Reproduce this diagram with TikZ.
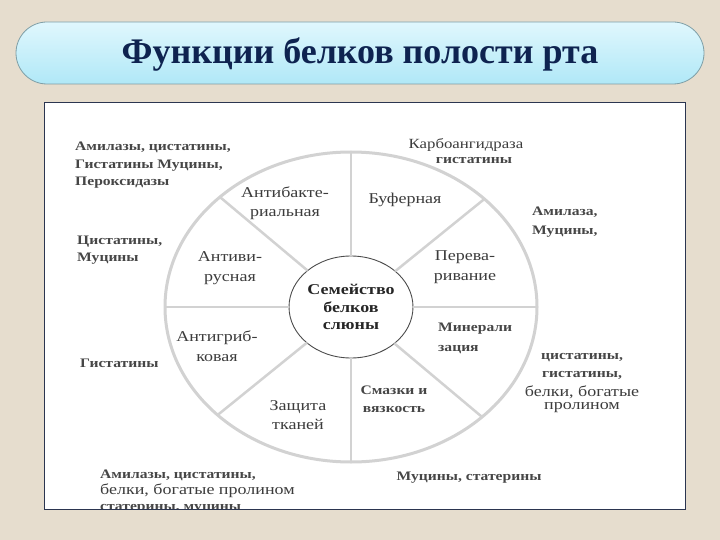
\documentclass[tikz,border=0pt]{standalone}
\usepackage{fontspec}
\setmainfont{Liberation Serif}[FakeStretch=1.2]
\newfontfamily\titlefont{Liberation Serif}
\usetikzlibrary{shapes.geometric}
\definecolor{bg}{HTML}{E6DDCE}
\definecolor{pilltop}{HTML}{E0F7FD}
\definecolor{pillbot}{HTML}{B0E8F7}
\definecolor{pillrim}{HTML}{7E9EA6}
\definecolor{navy}{HTML}{0E2350}
\definecolor{spokegrey}{HTML}{D2D2D2}
\definecolor{ink}{HTML}{3C3C3C}
\definecolor{heavyink}{HTML}{464646}
\definecolor{panelrim}{HTML}{2B3550}
\begin{document}
\begin{tikzpicture}[x=1pt,y=-1pt,
  lab/.style={font=\fontsize{15}{19.5}\selectfont, text=ink, align=center, inner sep=0pt},
  labsmall/.style={font=\fontsize{14}{17}\selectfont, text=ink, align=center, inner sep=0pt},
  heavy/.style={font=\bfseries\fontsize{13}{17.5}\selectfont, text=heavyink, inner sep=0pt},
  centre/.style={font=\bfseries\fontsize{15}{17.5}\selectfont, text=black!85, align=center, inner sep=0pt},
  wheel/.style={draw=spokegrey, line width=3pt},
  spoke/.style={draw=spokegrey, line width=2.5pt}]
\useasboundingbox (0,0) rectangle (720,540);
\fill[bg] (0,0) rectangle (720,540);
% title pill
\shade[top color=pilltop, bottom color=pillbot, draw=pillrim, line width=0.8pt, rounded corners=31pt] (16,22) rectangle (704,84);
\node[font=\titlefont\bfseries\fontsize{36}{40}\selectfont, text=navy, inner sep=0pt] (title) at (360,55) {Функции белков полости рта};
% panel
\draw[fill=white, draw=panelrim, line width=1pt] (44,103) rectangle (685,509);
% wheel
\node[ellipse, wheel, minimum width=372pt, minimum height=310pt, inner sep=0pt, outer sep=0pt] (outer) at (351,307) {};
\node[ellipse, draw=black!70, line width=0.9pt, minimum width=124pt, minimum height=102pt, inner sep=0pt, outer sep=0pt] (inner) at (351,307) {};
\foreach \a in {0,39.8,90,140.2,180,219.8,270,320.2}
  \draw[spoke] (inner.\a) -- (outer.\a);
\node[centre] (fam) at (351,307) {Семейство\\белков\\слюны};
% sectors
\node[lab] (antibac) at (285,203) {Антибакте-\\риальная};
\node[lab] (buf) at (405,200) {Буферная};
\node[lab] (digest) at (465,267) {Перева-\\ривание};
\node[lab] (antivir) at (230,268) {Антиви-\\русная};
\node[lab] (antifung) at (217,346) {Антигриб-\\ковая};
\node[heavy, align=left, anchor=west, font=\bfseries\fontsize{13}{20}\selectfont] (mineral) at (438,338) {Минерали\\зация};
\node[lab] (protect) at (298,415) {Защита\\тканей};
\node[heavy, align=center, font=\bfseries\fontsize{13}{18}\selectfont] (lubric) at (394,399) {Смазки и\\вязкость};
% outer labels
\node[heavy, align=left, anchor=west] (tl) at (75,165.5) {Амилазы, цистатины,\\Гистатины Муцины,\\Пероксидазы};
\node[heavy, align=left, anchor=west, font=\bfseries\fontsize{13}{16.5}\selectfont] (cm) at (77,250) {Цистатины,\\Муцины};
\node[heavy, anchor=west] (gis) at (80,363) {Гистатины};
\begin{scope}
\clip (44,103) rectangle (685,508.5);
\node[heavy, anchor=west] (bl1) at (100,475) {Амилазы, цистатины,};
\node[lab, anchor=west] (bl2) at (100,491) {белки, богатые пролином};
\node[heavy, anchor=west] (bl3) at (100,509) {статерины, муцины};
\end{scope}
\node[labsmall] (carbo) at (466,145) {Карбоангидраза};
\node[heavy] (carbo2) at (474,161) {гистатины};
\node[heavy, align=left, anchor=west, font=\bfseries\fontsize{13}{19}\selectfont] (am) at (532,222.5) {Амилаза,\\Муцины,};
\node[heavy] (r1) at (582,358) {цистатины,};
\node[heavy] (r2) at (582,375) {гистатины,};
\node[lab] (r3) at (582,392) {белки, богатые};
\node[lab] (r4) at (582,408) {пролином};
\node[heavy] (mst) at (469,478) {Муцины, статерины};
\end{tikzpicture}
\end{document}
